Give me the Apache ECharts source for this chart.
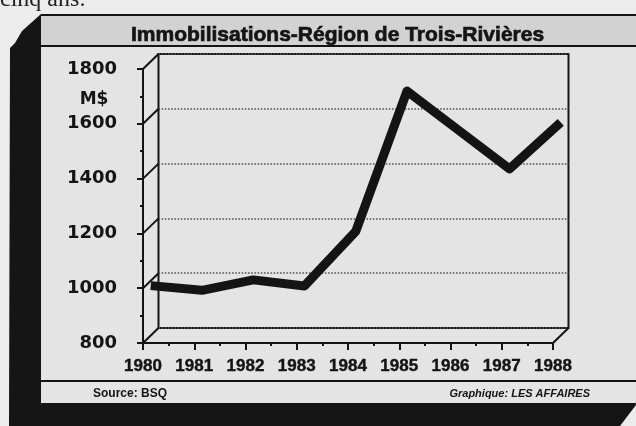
<!DOCTYPE html>
<html>
<head>
<meta charset="utf-8">
<script src="https://cdn.jsdelivr.net/npm/echarts@6/dist/echarts.min.js"></script>
<style>
  html, body { margin: 0; padding: 0; background: #ececec; }
  #main { width: 636px; height: 426px; }
</style>
</head>
<body>
<div id="main"></div>
<script>
// données (M$)
var years = [1980, 1981, 1982, 1983, 1984, 1985, 1986, 1987, 1988];
var values = [982, 965, 1003, 981, 1180, 1692, 1550, 1408, 1578];
var yTicks = [800, 1000, 1200, 1400, 1600, 1800];

var titleText = 'Immobilisations-Région de Trois-Rivières';
var unitText = 'M$';
var sourceText = 'Source: BSQ';
var creditText = 'Graphique: LES AFFAIRES';

var myChart = echarts.init(document.getElementById('main'), null, { renderer: 'canvas' });

// plan avant + profondeur du faux 3D
var front = { left: 143, top: 69, width: 410, height: 274 };
var depth = [15.5, -15];
var ink = '#141414';

var axisFont = { fontFamily: 'Liberation Sans', fontWeight: 'bold', fontSize: 17, color: ink };

myChart.setOption({
    backgroundColor: '#ececec',
    animation: false,
    title: {
        text: titleText,
        left: 126,
        top: 20,
        textStyle: { fontFamily: 'Liberation Sans', fontWeight: 'bold', fontSize: 21, color: ink, lineHeight: 21,
                     textBorderColor: ink, textBorderWidth: 0.7 }
    },
    grid: [
        { left: front.left, top: front.top, width: front.width, height: front.height },
        { left: front.left + depth[0], top: front.top + depth[1], width: front.width, height: front.height,
          show: true, borderColor: ink, borderWidth: 2, backgroundColor: 'transparent' },
        { left: front.left + depth[0] / 2, top: front.top + depth[1] / 2, width: front.width, height: front.height }
    ],
    xAxis: [
        {
            gridIndex: 0, type: 'value', min: 1980, max: 1988, interval: 1,
            axisLine: { lineStyle: { color: ink, width: 2 } },
            axisTick: { length: 7, lineStyle: { color: ink, width: 2 } },
            minorTick: { show: true, splitNumber: 2, length: 3, lineStyle: { color: ink, width: 2 } },
            axisLabel: Object.assign({ margin: 15, formatter: function (v) { return String(v); },
                                       textBorderColor: ink, textBorderWidth: 0.4 }, axisFont),
            splitLine: { show: false }
        },
        { gridIndex: 1, type: 'value', min: 1980, max: 1988, interval: 1,
          axisLine: { show: false }, axisTick: { show: false }, axisLabel: { show: false }, splitLine: { show: false } },
        { gridIndex: 2, type: 'value', min: 1980, max: 1988, show: false }
    ],
    yAxis: [
        {
            gridIndex: 0, type: 'value', min: 800, max: 1800, interval: 200,
            axisLine: { show: true, lineStyle: { color: ink, width: 2 } },
            axisTick: { show: true, length: 6, lineStyle: { color: ink, width: 2 } },
            minorTick: { show: true, splitNumber: 2, length: 3, lineStyle: { color: ink, width: 2 } },
            axisLabel: { margin: 26, fontFamily: 'DejaVu Sans', fontWeight: 'bold', fontSize: 18, color: ink,
                         formatter: function (v) { return String(v); } },
            splitLine: { show: false }
        },
        {
            gridIndex: 1, type: 'value', min: 800, max: 1800, interval: 200,
            axisLine: { show: false }, axisTick: { show: false }, axisLabel: { show: false },
            splitLine: { show: true, lineStyle: { type: 'dotted', color: '#555', width: 1.6 } }
        },
        { gridIndex: 2, type: 'value', min: 800, max: 1800, show: false }
    ],
    series: [{
        name: 'Immobilisations',
        type: 'line',
        xAxisIndex: 2,
        yAxisIndex: 2,
        data: years.map(function (y, i) { return [y, values[i]]; }),
        symbol: 'none',
        z: 5,
        lineStyle: { color: ink, width: 9, join: 'round', cap: 'butt' }
    }],
    graphic: [
        // ombre noire à gauche et en bas
        { id: 'shadow', type: 'polygon', z: -30,
          shape: { points: [[41, 14], [22, 31], [15, 43], [10, 48], [9, 426], [620, 426], [636, 405], [636, 403], [41, 403]] },
          style: { fill: '#151515' } },
        { id: 'panel', type: 'rect', z: -25, shape: { x: 41, y: 15, width: 600, height: 388 }, style: { fill: '#e4e4e4' } },
        { id: 'titlebar', type: 'rect', z: -20, shape: { x: 41, y: 15, width: 600, height: 31 }, style: { fill: '#d2d2d2' } },
        { id: 'tb1', type: 'line', z: -15, shape: { x1: 41, y1: 15, x2: 636, y2: 15 }, style: { stroke: ink, lineWidth: 2 } },
        { id: 'tb2', type: 'line', z: -15, shape: { x1: 41, y1: 46, x2: 636, y2: 46 }, style: { stroke: ink, lineWidth: 2 } },
        { id: 'foot', type: 'line', z: -15, shape: { x1: 41, y1: 381, x2: 636, y2: 381 }, style: { stroke: ink, lineWidth: 2 } },
        { id: 'unit', type: 'text', x: 94, y: 100, z: 10,
          style: { text: unitText, align: 'center', verticalAlign: 'middle', fill: ink,
                   font: 'bold 17px "DejaVu Sans"' } },
        { id: 'src', type: 'text', x: 93, y: 394, z: 10,
          style: { text: sourceText, align: 'left', verticalAlign: 'middle', fill: ink,
                   font: 'bold 12px "Liberation Sans Narrow", "Liberation Sans"' } },
        { id: 'credit', type: 'text', x: 590, y: 394, z: 10,
          style: { text: creditText, align: 'right', verticalAlign: 'middle', fill: ink,
                   font: 'italic bold 11px "Liberation Sans"' } },
        { id: 'article', type: 'text', x: 0, y: 12, z: 10,
          style: { text: 'cinq ans:', align: 'left', verticalAlign: 'bottom', fill: '#222',
                   font: '24px "Liberation Serif"' } }
    ]
});

// arêtes du faux 3D : raccords entre le plan avant et le fond
var edges = [];
yTicks.forEach(function (v, i) {
    var a = myChart.convertToPixel({ gridIndex: 0 }, [years[0], v]);
    var b = myChart.convertToPixel({ gridIndex: 1 }, [years[0], v]);
    edges.push({ id: 'side' + i, type: 'line', z: 8,
        shape: { x1: a[0], y1: a[1], x2: b[0], y2: b[1] }, style: { stroke: ink, lineWidth: 2 } });
});
var fr = myChart.convertToPixel({ gridIndex: 0 }, [years[years.length - 1], yTicks[0]]);
var bk = myChart.convertToPixel({ gridIndex: 1 }, [years[years.length - 1], yTicks[0]]);
edges.push({ id: 'corner', type: 'line', z: 8,
    shape: { x1: fr[0], y1: fr[1], x2: bk[0], y2: bk[1] }, style: { stroke: ink, lineWidth: 2 } });

myChart.setOption({ graphic: edges });
</script>
</body>
</html>
